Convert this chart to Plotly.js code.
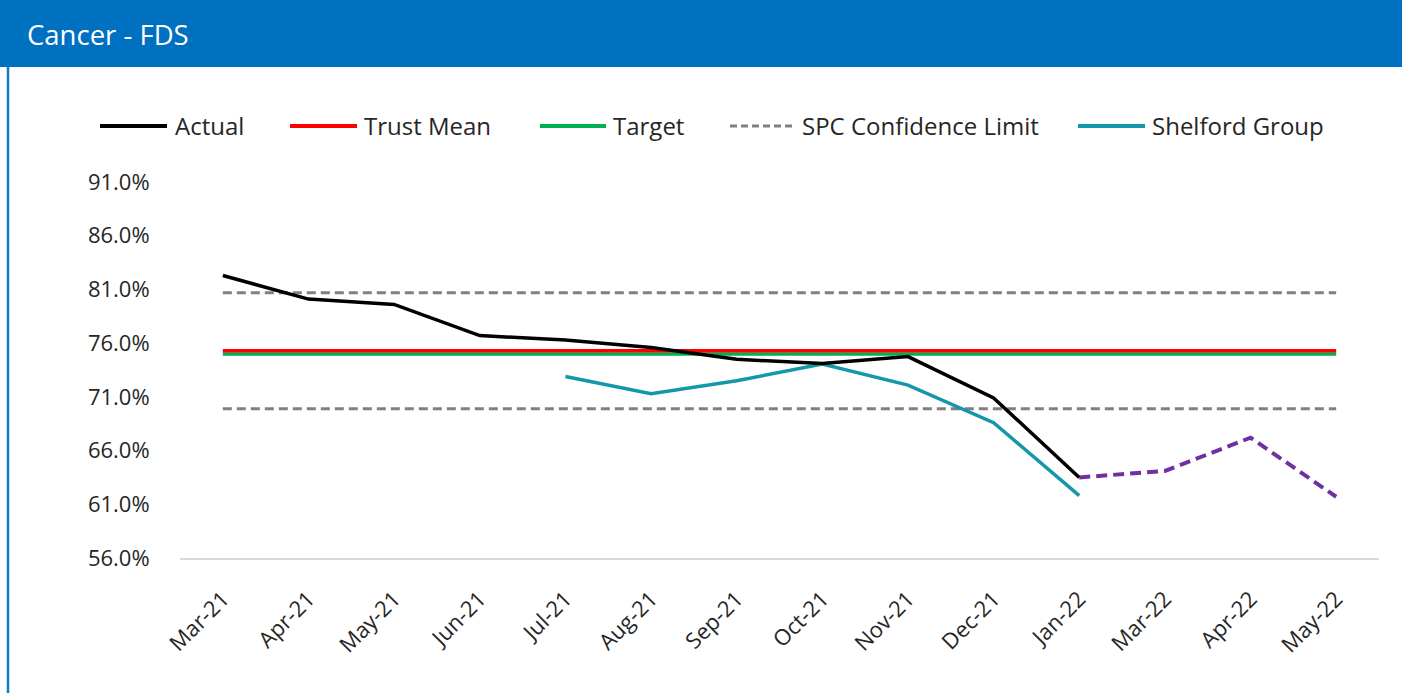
<!DOCTYPE html>
<html>
<head>
<meta charset="utf-8">
<script src="https://cdn.plot.ly/plotly-3.0.1.min.js"></script>
<style>
html,body{margin:0;padding:0;background:#fff;}
#chart{width:1402px;height:693px;}
</style>
</head>
<body>
<div id="chart"></div>
<script>
// ---- data ----
const months = ["Mar-21","Apr-21","May-21","Jun-21","Jul-21","Aug-21","Sep-21","Oct-21","Nov-21","Dec-21","Jan-22","Mar-22","Apr-22","May-22"];
const actual = [82.3, 80.1, 79.6, 76.7, 76.3, 75.6, 74.5, 74.1, 74.75, 70.9, 63.5, null, null, null];
const forecast = [null, null, null, null, null, null, null, null, null, null, 63.5, 64.1, 67.2, 61.7];
const trustMean = [75.3, 75.3, 75.3, 75.3, 75.3, 75.3, 75.3, 75.3, 75.3, 75.3, 75.3, 75.3, 75.3, 75.3];
const target = [75.0, 75.0, 75.0, 75.0, 75.0, 75.0, 75.0, 75.0, 75.0, 75.0, 75.0, 75.0, 75.0, 75.0];
const spcUpper = [80.7, 80.7, 80.7, 80.7, 80.7, 80.7, 80.7, 80.7, 80.7, 80.7, 80.7, 80.7, 80.7, 80.7];
const spcLower = [69.9, 69.9, 69.9, 69.9, 69.9, 69.9, 69.9, 69.9, 69.9, 69.9, 69.9, 69.9, 69.9, 69.9];
const shelford = [null, null, null, null, 72.9, 71.3, 72.5, 74.05, 72.1, 68.6, 61.8, null, null, null];
const yTicks = [56, 61, 66, 71, 76, 81, 86, 91];
const chartTitle = "Cancer - FDS";
const legendNames = ["Actual", "Trust Mean", "Target", "SPC Confidence Limit", "Shelford Group"];

// ---- layout geometry ----
const W = 1402, H = 693;
const L = 180, R = 1379, T = 182, B = 558;
const px2x = p => (p - L) / (R - L);
const py2y = p => (B - p) / (B - T);
const FONT = "Open Sans, Noto Sans, sans-serif";

const colors = {
  actual: "#000000", mean: "#FF0000", target: "#00B050",
  spc: "#808080", shelford: "#1497A8", forecast: "#7030A0"
};

const traces = [
  {x: months, y: spcUpper, mode: "lines", line: {color: colors.spc, width: 3, dash: "9px,5px"}, hoverinfo: "skip"},
  {x: months, y: spcLower, mode: "lines", line: {color: colors.spc, width: 3, dash: "9px,5px"}, hoverinfo: "skip"},
  {x: months, y: target, mode: "lines", line: {color: colors.target, width: 3.5}},
  {x: months, y: trustMean, mode: "lines", line: {color: colors.mean, width: 3.5}},
  {x: months, y: shelford, mode: "lines", line: {color: colors.shelford, width: 3.5}},
  {x: months, y: forecast, mode: "lines", line: {color: colors.forecast, width: 4, dash: "11px,6px"}},
  {x: months, y: actual, mode: "lines", line: {color: colors.actual, width: 3.5}}
];

// legend (custom, placed in pixel positions)
const legendItems = [
  {name: legendNames[0], x0: 100, x1: 167, tx: 173, color: colors.actual, dash: "solid"},
  {name: legendNames[1], x0: 290, x1: 357, tx: 362, color: colors.mean, dash: "solid"},
  {name: legendNames[2], x0: 540, x1: 606, tx: 611, color: colors.target, dash: "solid"},
  {name: legendNames[3], x0: 730, x1: 795, tx: 800, color: colors.spc, dash: "dash"},
  {name: legendNames[4], x0: 1078, x1: 1145, tx: 1150, color: colors.shelford, dash: "solid"}
];
const legendY = 126;

const shapes = [
  // header band
  {type: "rect", xref: "paper", yref: "paper", x0: px2x(0), x1: px2x(W), y0: py2y(67), y1: py2y(0),
   fillcolor: "#0070C0", line: {width: 0}, layer: "below"},
  // left border
  {type: "line", xref: "paper", yref: "paper", x0: px2x(8), x1: px2x(8), y0: py2y(67), y1: py2y(H),
   line: {color: "#0F7CC4", width: 2.5}}
];
const annotations = [];
legendItems.forEach(it => {
  shapes.push({type: "line", xref: "paper", yref: "paper", x0: px2x(it.x0), x1: px2x(it.x1),
    y0: py2y(legendY), y1: py2y(legendY),
    line: {color: it.color, width: it.dash === "dash" ? 3 : 4, dash: it.dash === "dash" ? "7px,4px" : "solid"}});
  annotations.push({xref: "paper", yref: "paper", x: px2x(it.tx), y: py2y(legendY), xanchor: "left", yanchor: "middle",
    text: it.name, showarrow: false, font: {family: FONT, size: 24, color: "#262626"}});
});

const layout = {
  width: W, height: H,
  margin: {l: L, r: W - R, t: T, b: H - B, pad: 0},
  paper_bgcolor: "#ffffff", plot_bgcolor: "#ffffff",
  showlegend: false,
  title: {text: chartTitle, x: 27 / W, xanchor: "left", xref: "container", y: 1 - 35 / H, yanchor: "middle", yref: "container",
    font: {family: FONT, size: 27.5, color: "#ffffff"}},
  xaxis: {
    type: "category", range: [-0.5, 13.5], fixedrange: true,
    showgrid: false, zeroline: false, showline: true, linecolor: "#D9D9D9", linewidth: 1.5,
    ticks: "outside", ticklen: 18, tickcolor: "rgba(0,0,0,0)", tickangle: -45,
    tickfont: {family: FONT, size: 22, color: "#262626"}
  },
  yaxis: {
    range: [56, 91], tickvals: yTicks, ticktext: yTicks.map(v => v.toFixed(1) + "%"),
    showgrid: false, zeroline: false, showline: false, fixedrange: true,
    ticks: "outside", ticklen: 25, tickcolor: "rgba(0,0,0,0)",
    tickfont: {family: FONT, size: 22, color: "#262626"}
  },
  shapes: shapes,
  annotations: annotations,
  font: {family: FONT}
};

Plotly.newPlot("chart", traces, layout, {displayModeBar: false, staticPlot: true});
</script>
</body>
</html>
